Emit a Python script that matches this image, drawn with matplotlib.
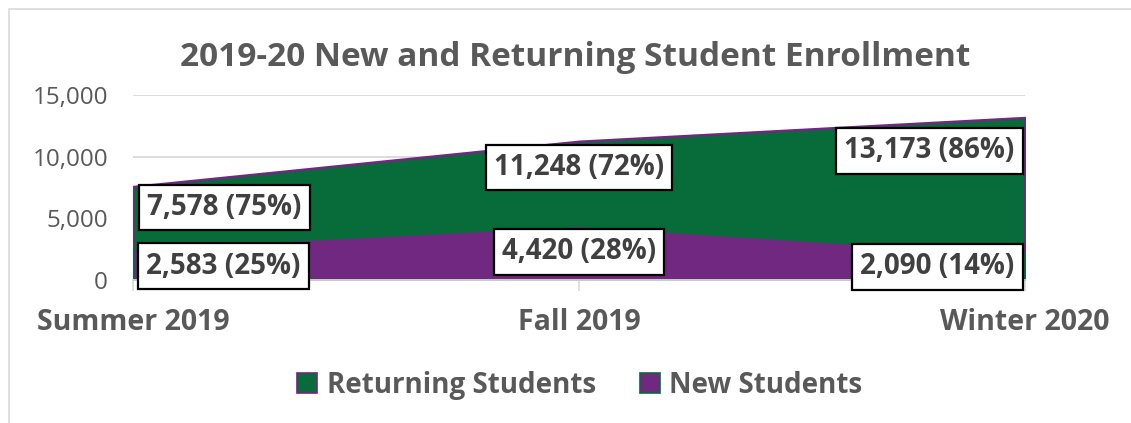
import matplotlib
matplotlib.use("Agg")
import matplotlib.pyplot as plt
from matplotlib.patches import Rectangle, Patch

categories = ["Summer 2019", "Fall 2019", "Winter 2020"]
returning = [7578, 11248, 13173]
new = [2583, 4420, 2090]
returning_pct = [75, 72, 86]
new_pct = [25, 28, 14]
series_names = ["Returning Students", "New Students"]
yticks = [0, 5000, 10000, 15000]

GREEN = "#076B3A"
PURPLE = "#702880"
GRID = "#D9D9D9"
TXT = "#595959"
LBL = "#404040"

plt.rcParams["font.family"] = ["Open Sans", "DejaVu Sans"]

W, H = 1131, 423
fig = plt.figure(figsize=(W / 100, H / 100), dpi=100)

# chart outline
fig.patches.append(Rectangle((9 / W, -0.1), 1.2, (H - 9) / H + 0.1,
                             transform=fig.transFigure, fill=False,
                             edgecolor=GRID, linewidth=1.2))

ax = fig.add_axes([133 / W, (H - 280) / H, 892 / W, 185 / H])
x = list(range(len(categories)))

ax.fill_between(x, 0, returning, facecolor=GREEN, edgecolor=PURPLE,
                linewidth=1.8, zorder=2)
ax.fill_between(x, 0, new, facecolor=PURPLE, edgecolor=GREEN,
                linewidth=1.8, zorder=3)

ax.set_xlim(0, len(categories) - 1)
ax.set_ylim(0, 15000)
ax.set_yticks(yticks)
ax.set_yticklabels([f"{v:,}" for v in yticks], fontsize=17.5, color=TXT)
ax.set_xticks(x)
ax.set_xticklabels(categories, fontsize=20.5, fontweight="bold", color=TXT)
ax.tick_params(axis="y", length=0, pad=18)
ax.tick_params(axis="x", length=8, width=1.2, color=GRID, pad=12)
ax.grid(axis="y", color=GRID, linewidth=1.3, zorder=0)
ax.set_axisbelow(True)
for s in ["top", "right", "left"]:
    ax.spines[s].set_visible(False)
ax.spines["bottom"].set_color(GRID)
ax.spines["bottom"].set_linewidth(1.3)
ax.spines["bottom"].set_zorder(4)

box = dict(boxstyle="square,pad=0.3", facecolor="white", edgecolor="black",
           linewidth=1.6)
ret_off = [(66, -15), (0, -19), (-69, -24)]
new_off = [(65, -13), (0, -19), (-63, -9)]
for i in x:
    ax.annotate(f"{returning[i]:,} ({returning_pct[i]}%)", xy=(i, returning[i]),
                xytext=ret_off[i], textcoords="offset points", ha="center",
                va="center", fontsize=20, fontweight="bold", color=LBL,
                bbox=box, zorder=6, annotation_clip=False)
    ax.annotate(f"{new[i]:,} ({new_pct[i]}%)", xy=(i, new[i]),
                xytext=new_off[i], textcoords="offset points", ha="center",
                va="center", fontsize=20, fontweight="bold", color=LBL,
                bbox=box, zorder=6, annotation_clip=False)

fig.text(575 / W, 1 - 57 / H, "2019-20 New and Returning Student Enrollment",
         ha="center", va="center", fontsize=24, fontweight="bold", color=TXT)

handles = [Patch(facecolor=GREEN, edgecolor=PURPLE, linewidth=1.2),
           Patch(facecolor=PURPLE, edgecolor=GREEN, linewidth=1.2)]
leg = fig.legend(handles, series_names, loc="center",
                 bbox_to_anchor=(580 / W, 1 - 385 / H), ncol=2, frameon=False,
                 prop={"size": 20, "weight": "bold"}, handlelength=0.7,
                 handleheight=0.7, handletextpad=0.35, columnspacing=1.6)
for t in leg.get_texts():
    t.set_color(TXT)

fig.savefig("out.png", dpi=100)
